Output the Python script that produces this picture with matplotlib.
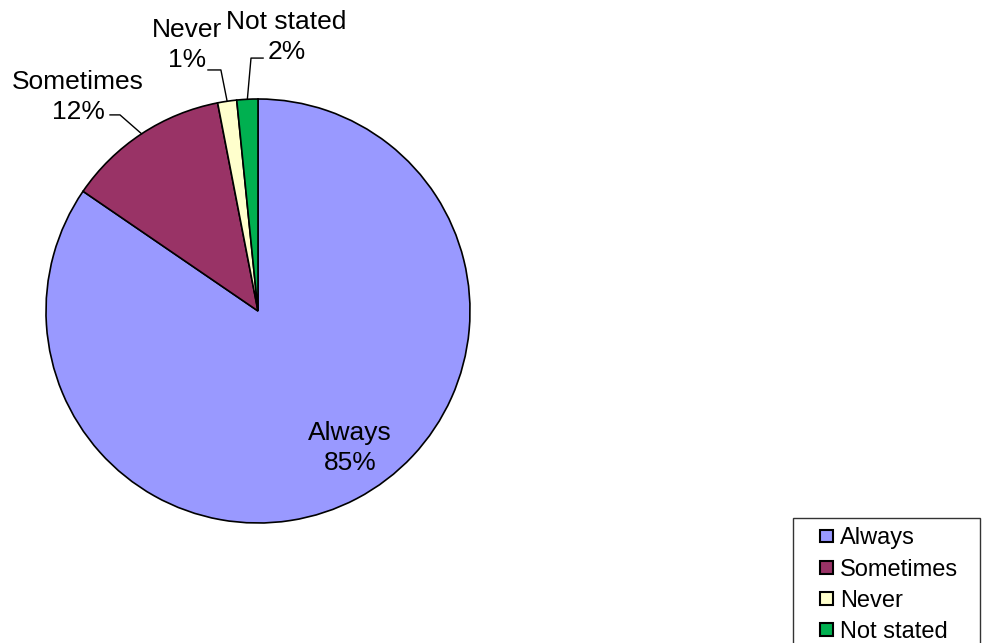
import numpy as np
import matplotlib
matplotlib.use("Agg")
import matplotlib.pyplot as plt
from matplotlib.patches import Patch, Rectangle
from matplotlib.legend_handler import HandlerPatch

categories = ["Always", "Sometimes", "Never", "Not stated"]
values = [84.55, 12.4, 1.45, 1.6]
pct_labels = ["85%", "12%", "1%", "2%"]
colors = ["#9999FF", "#993366", "#FFFFCC", "#00B050"]

plt.rcParams['font.family'] = ['Liberation Sans', 'DejaVu Sans']

W, H = 987, 643
fig = plt.figure(figsize=(W / 100, H / 100), dpi=100)
cx, cy, R = 258, 311, 212
ax = fig.add_axes([(cx - R) / W, (H - cy - R) / H, 2 * R / W, 2 * R / H])

wedges, _ = ax.pie(values, colors=colors, startangle=90, counterclock=False,
                   radius=1.0, wedgeprops=dict(edgecolor='black', linewidth=1.2))
ax.set_xlim(-1, 1)
ax.set_ylim(-1, 1)
ax.set_aspect('equal')
ax.axis('off')

fs = 19
ls = 1.3
ax.text(0.435, -0.645, f"{categories[0]}\n{pct_labels[0]}", ha='center', va='center',
        fontsize=fs, linespacing=ls)

out = {
    1: ((-0.849, 1.01), (-0.651, 0.925), (-0.698, 0.925)),
    2: ((-0.335, 1.255), (-0.175, 1.137), (-0.236, 1.137)),
    3: ((0.135, 1.292), (-0.033, 1.193), (0.024, 1.193)),
}
for i, (lp, elbow, hend) in out.items():
    w = wedges[i]
    mid = np.deg2rad((w.theta1 + w.theta2) / 2)
    ex, ey = np.cos(mid), np.sin(mid)
    ax.plot([ex, elbow[0], hend[0]], [ey, elbow[1], hend[1]], color='black',
            lw=1.0, clip_on=False)
    ax.text(lp[0], lp[1], f"{categories[i]}\n{pct_labels[i]}", ha='center', va='center',
            fontsize=fs, linespacing=ls, clip_on=False)


def make_square(legend, orig_handle, xdescent, ydescent, width, height, fontsize):
    s = 9
    return Rectangle((width - s - xdescent, (height - s) / 2 - ydescent), s, s)


handles = [Patch(facecolor=c, edgecolor='black', linewidth=1.5) for c in colors]
leg = fig.legend(handles, categories, loc='upper left',
                 bbox_to_anchor=(793 / W, 0, 187 / W, (H - 518) / H), mode='expand',
                 fontsize=17, frameon=True, fancybox=False, edgecolor='black',
                 handlelength=1.29, handleheight=0.7, handletextpad=0.3,
                 labelspacing=0.385, borderpad=0.4, borderaxespad=0,
                 handler_map={Patch: HandlerPatch(patch_func=make_square)})
leg.get_frame().set_linewidth(1.0)

fig.savefig("out.png", dpi=100)
